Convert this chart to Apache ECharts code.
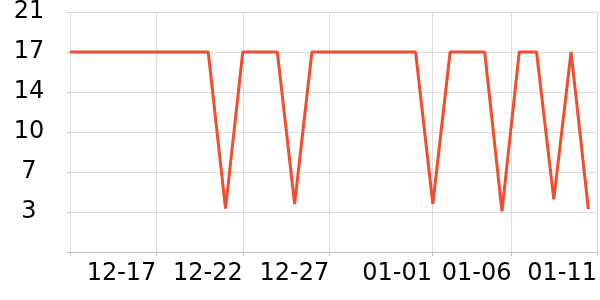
<!DOCTYPE html>
<html>
<head>
<meta charset="utf-8">
<script src="https://cdn.jsdelivr.net/npm/echarts@6/dist/echarts.min.js"></script>
<style>html,body{margin:0;padding:0;background:#fff}#c{width:600px;height:300px}</style>
</head>
<body>
<div id="c"></div>
<script>
// Data
const dates = ['12-12','12-13','12-14','12-15','12-16','12-17','12-18','12-19','12-20','12-21',
  '12-22','12-23','12-24','12-25','12-26','12-27','12-28','12-29','12-30','12-31',
  '01-01','01-02','01-03','01-04','01-05','01-06','01-07','01-08','01-09','01-10','01-11'];
const values = [17.5,17.5,17.5,17.5,17.5,17.5,17.5,17.5,17.5,3.8,
  17.5,17.5,17.5,4.2,17.5,17.5,17.5,17.5,17.5,17.5,
  17.5,4.2,17.5,17.5,17.5,3.55,17.5,17.5,4.6,17.5,3.75];
const xTickLabels = ['12-17','12-22','12-27','01-01','01-06','01-11'];
const xTickAt = [5, 10, 15, 20.95, 25.55, 30.5];

const chart = echarts.init(document.getElementById('c'), null, {renderer:'canvas'});
const font = 'DejaVu Sans';
chart.setOption({
  animation: false,
  grid: {left: 70, right: 0, top: 10, bottom: 48, containLabel: false},
  xAxis: {
    type: 'value', min: 0, max: 30.55,
    axisLine: {show: true, lineStyle: {color: '#c4c4c4', width: 1}},
    axisTick: {show: true, length: 4, lineStyle: {color: '#c4c4c4'}, customValues: [0].concat(xTickAt)},
    splitLine: {show: true, lineStyle: {color: '#dcdcdc', width: 1}},
    axisLabel: {
      customValues: xTickAt,
      formatter: v => { const i = xTickAt.indexOf(v); return i >= 0 ? xTickLabels[i] : ''; },
      align: 'right', margin: 10, fontSize: 24, fontFamily: font, color: '#000'
    }
  },
  yAxis: {
    type: 'value', min: 0, max: 21, interval: 3.5,
    axisLine: {show: false},
    axisTick: {show: true, length: 3, lineStyle: {color: '#c4c4c4'}},
    splitLine: {show: true, lineStyle: {color: '#dcdcdc', width: 1}},
    axisLabel: {
      formatter: v => v === 0 ? '' : String(Math.floor(v)),
      align: 'center', margin: 41, fontSize: 24, fontFamily: font, color: '#000'
    }
  },
  series: [{
    type: 'line',
    data: dates.map((d, i) => [i, values[i]]),
    showSymbol: false, symbol: 'none',
    lineStyle: {color: '#f04e2e', width: 3},
    itemStyle: {color: '#f04e2e'}
  }]
});
</script>
</body>
</html>
